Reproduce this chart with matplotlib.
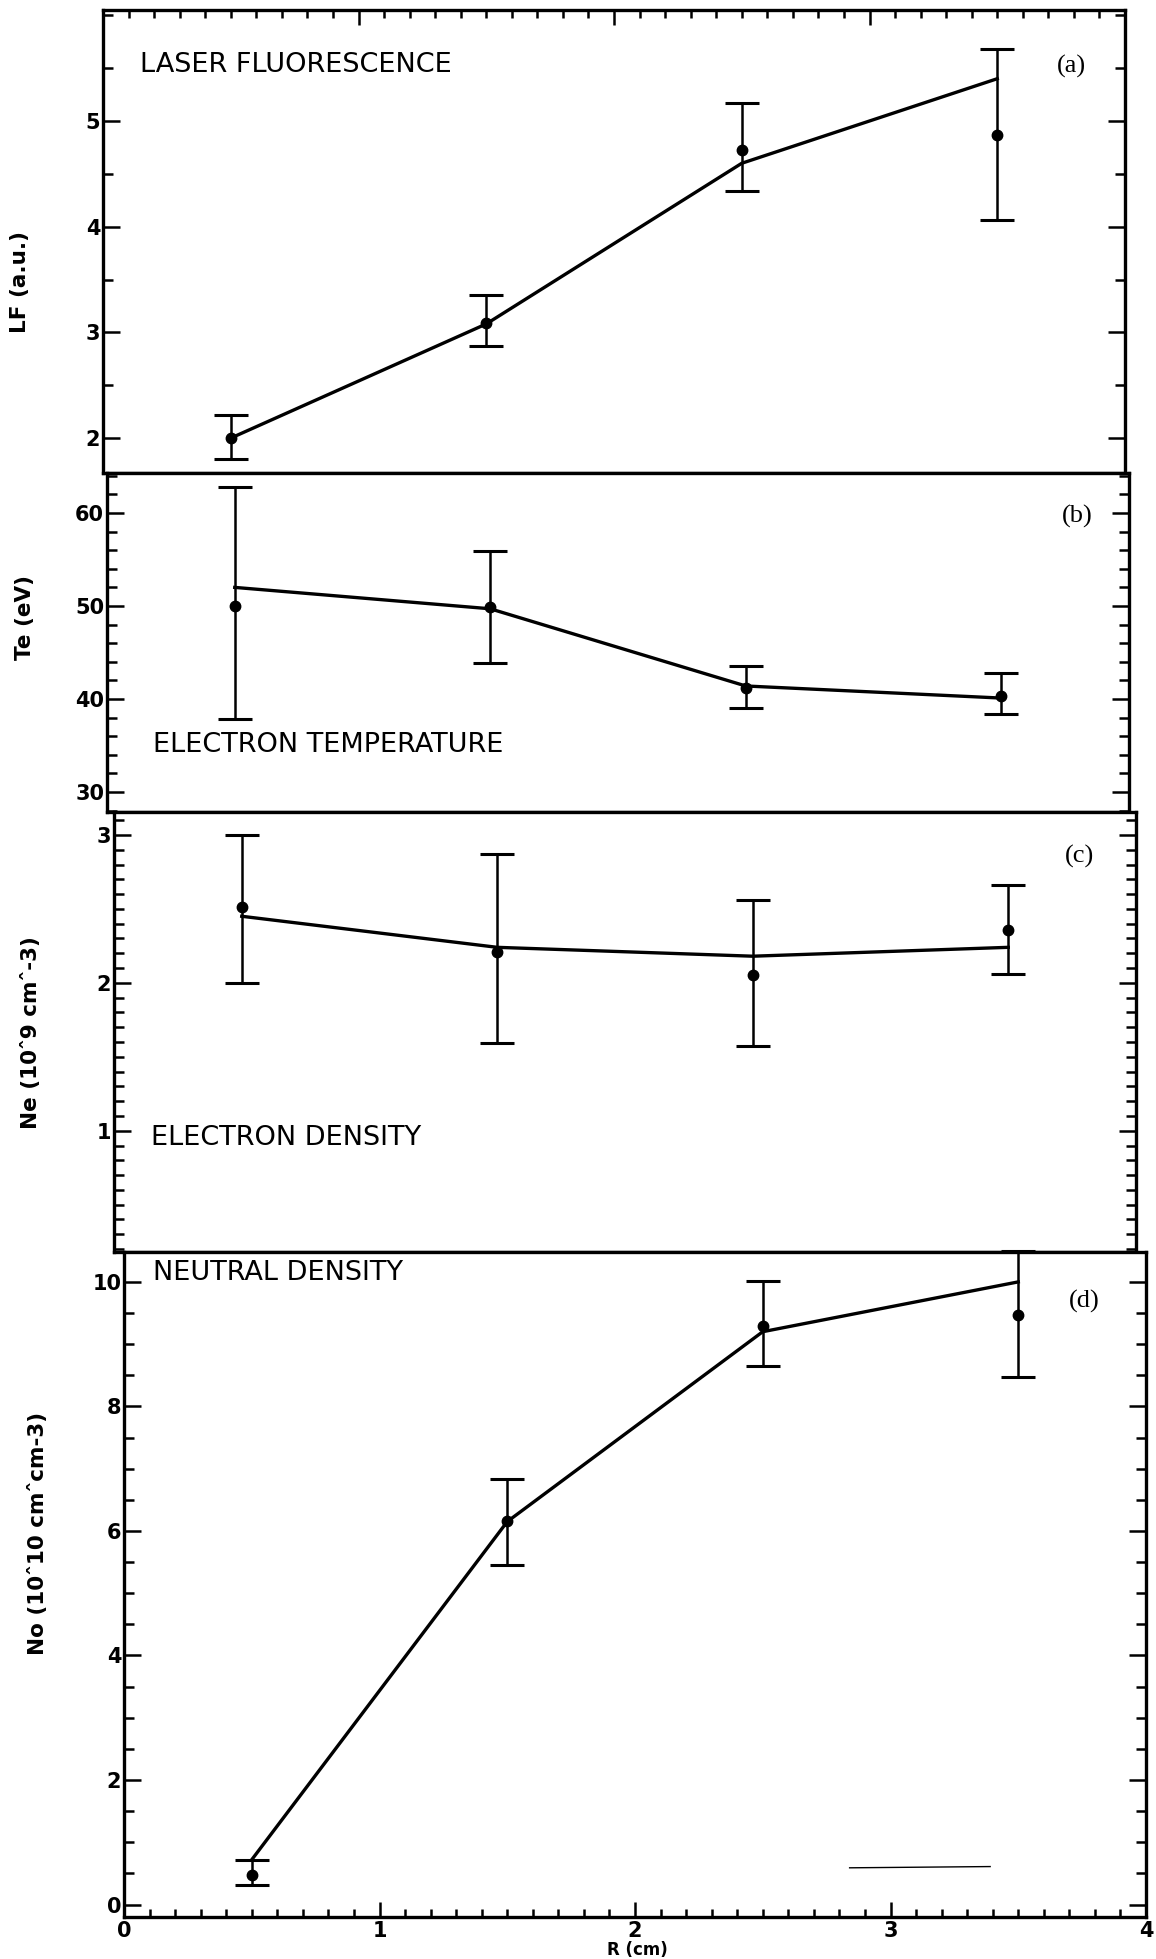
import matplotlib
matplotlib.use("Agg")
import matplotlib.pyplot as plt
from matplotlib.ticker import MultipleLocator

# radial positions of the measurements (cm)
r_pts = [0.5, 1.5, 2.5, 3.5]

# (a) laser fluorescence
lf_val = [2.0, 3.09, 4.73, 4.87]
lf_lo = [1.80, 2.87, 4.34, 4.06]
lf_hi = [2.22, 3.35, 5.17, 5.68]
lf_fit = [2.0, 3.08, 4.60, 5.40]

# (b) electron temperature
te_val = [50.0, 49.9, 41.2, 40.3]
te_lo = [37.9, 43.9, 39.0, 38.4]
te_hi = [62.8, 55.9, 43.6, 42.8]
te_fit = [52.0, 49.7, 41.4, 40.1]

# (c) electron density
ne_val = [2.51, 2.21, 2.05, 2.36]
ne_lo = [2.00, 1.59, 1.57, 2.06]
ne_hi = [3.00, 2.87, 2.56, 2.66]
ne_fit = [2.45, 2.24, 2.18, 2.24]

# (d) neutral density
no_val = [0.47, 6.16, 9.29, 9.47]
no_lo = [0.32, 5.45, 8.65, 8.47]
no_hi = [0.72, 6.84, 10.02, 10.50]
no_fit = [0.72, 6.15, 9.20, 10.00]

# stray scan mark near the bottom of panel (d)
stray_x = [2.84, 3.39]
stray_y = [0.59, 0.61]

W, H = 1156, 1959
fig = plt.figure(figsize=(W / 100, H / 100), dpi=100)

# panel layout in pixels: (left, top, bottom)
boxes = [(103, 10, 473), (107, 473, 812), (114, 812, 1252), (124, 1252, 1917)]
panel_w = 1022

panels = [
    dict(val=lf_val, lo=lf_lo, hi=lf_hi, fit=lf_fit, ylim=(1.67, 6.05), minor=0.5,
         ticks=[2, 3, 4, 5], title="LASER FLUORESCENCE", tpos=(0.036, 0.881), tag="(a)", gpos=(0.948, 0.877),
         ylabel="LF (a.u.)", lpos=(20, 282)),
    dict(val=te_val, lo=te_lo, hi=te_hi, fit=te_fit, ylim=(27.85, 64.3), minor=2,
         ticks=[30, 40, 50, 60], title="ELECTRON TEMPERATURE", tpos=(0.045, 0.198), tag="(b)", gpos=(0.949, 0.873),
         ylabel="Te (eV)", lpos=(25, 618)),
    dict(val=ne_val, lo=ne_lo, hi=ne_hi, fit=ne_fit, ylim=(0.18, 3.155), minor=0.1,
         ticks=[1, 2, 3], title="ELECTRON DENSITY", tpos=(0.036, 0.259), tag="(c)", gpos=(0.945, 0.898),
         ylabel="Ne (10ˆ9 cmˆ-3)", lpos=(31, 1033)),
    dict(val=no_val, lo=no_lo, hi=no_hi, fit=no_fit, ylim=(-0.2, 10.48), minor=0.5,
         ticks=[0, 2, 4, 6, 8, 10], title="NEUTRAL DENSITY", tpos=(0.028, 0.968), tag="(d)", gpos=(0.940, 0.925),
         ylabel="No (10ˆ10 cmˆcm-3)", lpos=(38, 1533)),
]

axes = []
for i, (p, (left, top, bot)) in enumerate(zip(panels, boxes)):
    ax = fig.add_axes([left / W, 1 - bot / H, panel_w / W, (bot - top) / H])
    axes.append(ax)
    yerr = [[v - l for v, l in zip(p["val"], p["lo"])], [h - v for v, h in zip(p["val"], p["hi"])]]
    ax.errorbar(r_pts, p["val"], yerr=yerr, fmt="o", color="black", ms=7.5,
                elinewidth=1.8, capsize=12, capthick=2.2, clip_on=False, zorder=3)
    ax.plot(r_pts, p["fit"], color="black", lw=2.4, zorder=2)

    ax.set_xlim(0, 4)
    ax.set_ylim(*p["ylim"])
    ax.set_yticks(p["ticks"])
    ax.yaxis.set_minor_locator(MultipleLocator(p["minor"]))
    ax.xaxis.set_major_locator(MultipleLocator(1))
    ax.xaxis.set_minor_locator(MultipleLocator(0.1))

    for s in ax.spines.values():
        s.set_linewidth(2.4)

    ax.tick_params(axis="y", which="both", direction="in", left=True, right=True, width=1.8, pad=2)
    ax.tick_params(axis="y", which="major", length=12)
    ax.tick_params(axis="y", which="minor", length=7)
    for lab in ax.get_yticklabels():
        lab.set_fontsize(15)
        lab.set_fontweight("bold")

    ax.tick_params(axis="x", which="both", direction="in", width=1.8,
                   top=(i == 0), bottom=(i == 3), labelbottom=(i == 3), pad=3)
    ax.tick_params(axis="x", which="major", length=11)
    ax.tick_params(axis="x", which="minor", length=6)
    if i == 3:
        for lab in ax.get_xticklabels():
            lab.set_fontsize(15)
            lab.set_fontweight("bold")

    ax.text(p["tpos"][0], p["tpos"][1], p["title"], transform=ax.transAxes,
            ha="left", va="center", fontsize=19.5, family="DejaVu Sans")
    ax.text(p["gpos"][0], p["gpos"][1], p["tag"], transform=ax.transAxes,
            ha="center", va="center", fontsize=19, family="Liberation Serif")
    fig.text(p["lpos"][0] / W, 1 - p["lpos"][1] / H, p["ylabel"], rotation=90,
             ha="center", va="center", fontsize=15.5, fontweight="bold")

axes[3].plot(stray_x, stray_y, color="black", lw=1.0)
fig.text(637 / W, 1 - 1950 / H, "R (cm)", ha="center", va="center", fontsize=12, fontweight="bold")

fig.savefig("out.png", dpi=100, facecolor="white")
